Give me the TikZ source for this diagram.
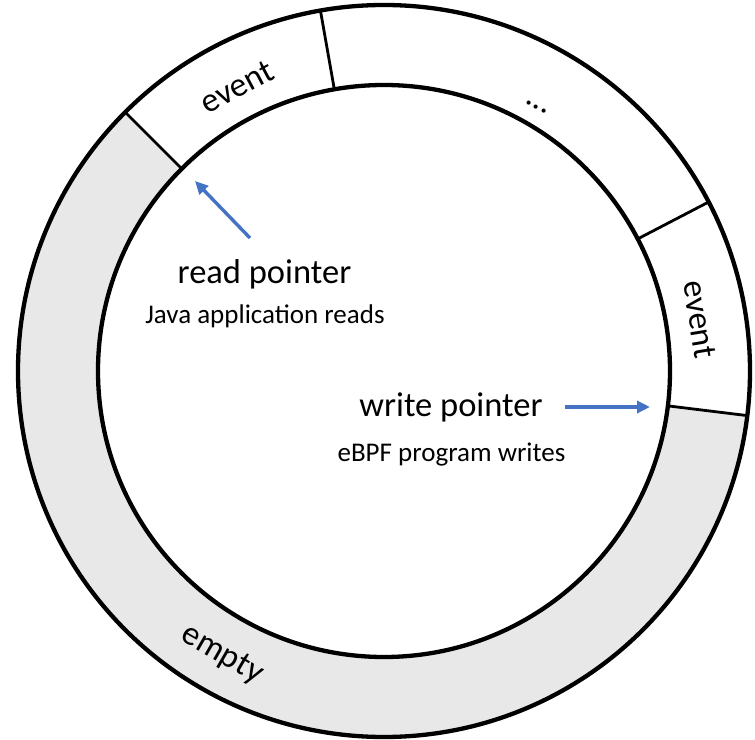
\documentclass[tikz,border=0pt]{standalone}
\usepackage{fontspec}
\setmainfont{Carlito}
\usetikzlibrary{arrows.meta}
\definecolor{ringgray}{RGB}{232,232,232}
\definecolor{ptrblue}{RGB}{68,114,196}
\tikzset{
  ringline/.style={line width=4.3pt, black},
  divider/.style={line width=2.8pt, black},
  slotlabel/.style={font=\fontsize{34}{40}\selectfont, inner sep=0pt},
  ptrlabel/.style={font=\fontsize{34.5}{40}\selectfont, inner sep=0pt, anchor=base},
  ptrnote/.style={font=\fontsize{27}{32}\selectfont, inner sep=0pt, anchor=base},
  ptrarrow/.style={line width=3.4pt, ptrblue, -{Triangle[length=13pt,width=12pt]}}
}
\begin{document}
\begin{tikzpicture}[x=1pt,y=1pt]
  % page frame, origin at the ring centre
  \useasboundingbox (-384,-368) rectangle (371,371);
  \def\Rout{366}
  \def\Rin{286}
  % free (empty) part of the ring buffer
  \fill[ringgray] (135:\Rout) arc[start angle=135, end angle=353, radius=\Rout]
     -- (353:\Rin) arc[start angle=353, end angle=135, radius=\Rin] -- cycle;
  % ring outline
  \draw[ringline] (0,0) circle (\Rout);
  \draw[ringline] (0,0) circle (\Rin);
  % slot boundaries
  \foreach \a in {135,100,27.5,-7}
    \draw[divider] (\a:\Rin) -- (\a:\Rout);
  % slot labels
  \node[slotlabel, rotate=28] (evA) at (117.4:320) {event};
  \node[slotlabel, rotate=-30, anchor=base] (more) at (60:303) {...};
  \node[slotlabel, rotate=-80.7] (evB) at (9.3:320) {event};
  \node[slotlabel, rotate=-30] (free) at (240.3:327) {empty};
  % read pointer
  \node[ptrlabel] (rd) at (-119.5,88) {read pointer};
  \node[ptrnote] (rdnote) at (-119,48) {Java application reads};
  \coordinate (rdtail) at (-134,133);
  \coordinate (rdtip) at (-189,190);
  \draw[ptrarrow] (rdtail) -- (rdtip);
  % write pointer
  \node[ptrlabel] (wr) at (67,-45) {write pointer};
  \node[ptrnote] (wrnote) at (67.5,-90) {eBPF program writes};
  \coordinate (wrtail) at (181,-36);
  \coordinate (wrtip) at (266,-36);
  \draw[ptrarrow] (wrtail) -- (wrtip);
\end{tikzpicture}
\end{document}
